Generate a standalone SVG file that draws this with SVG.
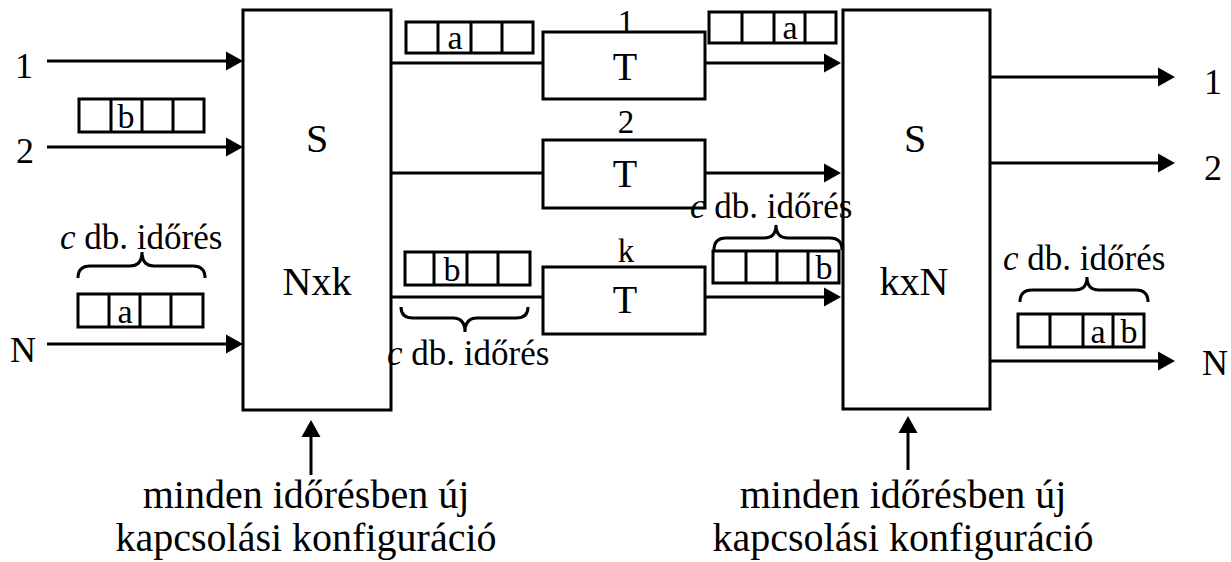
<svg xmlns="http://www.w3.org/2000/svg" width="1231" height="562" viewBox="0 0 1231 562">
<style>
text{font-family:"Liberation Serif","Times New Roman",serif;fill:#000}
.box{fill:#fff;stroke:#000;stroke-width:3}
.ln{stroke:#000;stroke-width:3;fill:none}
.cell{fill:none;stroke:#000;stroke-width:3}
.br{fill:none;stroke:#000;stroke-width:3}
.big{font-size:40px}
.lab{font-size:36px}
.num{font-size:33px}
.cl{font-size:34px}
.ct{font-size:35px}
.bot{font-size:40px}
</style>
<defs>
<marker id="ah" markerUnits="userSpaceOnUse" markerWidth="18" markerHeight="20" refX="7" refY="10" orient="auto">
<path d="M0,0.5 L17,10 L0,19.5 Z" fill="#000"/>
</marker>
</defs>

<g id="connectors">
<line class="ln" x1="47" y1="61" x2="233" y2="61" marker-end="url(#ah)"/>
<line class="ln" x1="47" y1="147" x2="233" y2="147" marker-end="url(#ah)"/>
<line class="ln" x1="47" y1="344" x2="233" y2="344" marker-end="url(#ah)"/>
<line class="ln" x1="391" y1="63" x2="543" y2="63"/>
<line class="ln" x1="391" y1="173" x2="543" y2="173"/>
<line class="ln" x1="391" y1="297" x2="543" y2="297"/>
<line class="ln" x1="705" y1="63" x2="831" y2="63" marker-end="url(#ah)"/>
<line class="ln" x1="705" y1="173" x2="831" y2="173" marker-end="url(#ah)"/>
<line class="ln" x1="705" y1="297" x2="831" y2="297" marker-end="url(#ah)"/>
<line class="ln" x1="990" y1="77" x2="1165" y2="77" marker-end="url(#ah)"/>
<line class="ln" x1="990" y1="163" x2="1165" y2="163" marker-end="url(#ah)"/>
<line class="ln" x1="990" y1="361" x2="1165" y2="361" marker-end="url(#ah)"/>
<line class="ln" x1="311" y1="475" x2="311" y2="430" marker-end="url(#ah)"/>
<line class="ln" x1="908" y1="470" x2="908" y2="426" marker-end="url(#ah)"/>
</g>

<g id="switch1">
<rect class="box" x="243" y="10" width="148" height="400"/>
<text class="big" x="317" y="152" text-anchor="middle">S</text>
<text class="big" x="317" y="295" text-anchor="middle">Nxk</text>
</g>

<g id="switch2">
<rect class="box" x="843" y="10" width="147" height="399"/>
<text class="big" x="915" y="152" text-anchor="middle">S</text>
<text class="big" x="914" y="295" text-anchor="middle">kxN</text>
</g>

<g id="t1">
<rect class="box" x="543" y="32" width="162" height="67"/>
<text class="big" x="625" y="80" text-anchor="middle">T</text>
<text class="num" x="626" y="33" text-anchor="middle">1</text>
</g>
<g id="t2">
<rect class="box" x="543" y="140" width="162" height="68"/>
<text class="big" x="625" y="187" text-anchor="middle">T</text>
<text class="num" x="626" y="133" text-anchor="middle">2</text>
</g>
<g id="tk">
<rect class="box" x="543" y="267" width="162" height="67"/>
<text class="big" x="625" y="313" text-anchor="middle">T</text>
<text class="num" x="626" y="262" text-anchor="middle">k</text>
</g>

<g id="inLabels">
<text class="lab" x="24" y="78" text-anchor="middle">1</text>
<text class="lab" x="25" y="163" text-anchor="middle">2</text>
<text class="lab" x="23" y="362" text-anchor="middle">N</text>
</g>
<g id="outLabels">
<text class="lab" x="1213" y="94" text-anchor="middle">1</text>
<text class="lab" x="1213" y="180" text-anchor="middle">2</text>
<text class="lab" x="1215" y="375" text-anchor="middle">N</text>
</g>

<g id="frame1">
<rect class="cell" x="79" y="99" width="125" height="33"/>
<path class="cell" d="M111,99V132M142,99V132M173,99V132"/>
<text class="cl" x="126" y="128" text-anchor="middle">b</text>
</g>
<g id="frame2">
<rect class="cell" x="78" y="294" width="125" height="33"/>
<path class="cell" d="M109,294V327M140,294V327M171,294V327"/>
<text class="cl" x="125" y="323" text-anchor="middle">a</text>
</g>
<g id="frame3">
<rect class="cell" x="406" y="22" width="127" height="31"/>
<path class="cell" d="M438,22V53M471,22V53M502,22V53"/>
<text class="cl" x="455" y="49" text-anchor="middle">a</text>
</g>
<g id="frame4">
<rect class="cell" x="709" y="12" width="127" height="31"/>
<path class="cell" d="M742,12V43M774,12V43M805,12V43"/>
<text class="cl" x="790" y="39" text-anchor="middle">a</text>
</g>
<g id="frame5">
<rect class="cell" x="405" y="252" width="125" height="33"/>
<path class="cell" d="M434,252V285M467,252V285M498,252V285"/>
<text class="cl" x="452" y="281" text-anchor="middle">b</text>
</g>
<g id="frame6">
<rect class="cell" x="713" y="251" width="126" height="32"/>
<path class="cell" d="M746,251V283M777,251V283M808,251V283"/>
<text class="cl" x="824" y="279" text-anchor="middle">b</text>
</g>
<g id="frame7">
<rect class="cell" x="1018" y="314" width="126" height="33"/>
<path class="cell" d="M1050,314V347M1083,314V347M1113,314V347"/>
<text class="cl" x="1098" y="343" text-anchor="middle">a</text>
<text class="cl" x="1129" y="343" text-anchor="middle">b</text>
</g>

<g id="brace1">
<path class="br" d="M78,278 Q78,266 90,266 L130,266 Q142,266 142,252 Q142,266 154,266 L193,266 Q205,266 205,278"/>
<text class="ct" x="60" y="249"><tspan font-style="italic">c</tspan> db. időrés</text>
</g>
<g id="brace2">
<path class="br" d="M401,307 Q401,318 413,318 L453,318 Q465,318 465,332 Q465,318 477,318 L516,318 Q528,318 528,307"/>
<text class="ct" x="387" y="365"><tspan font-style="italic">c</tspan> db. időrés</text>
</g>
<g id="brace3">
<path class="br" d="M714,250 Q714,238 726,238 L764,238 Q776,238 776,225 Q776,238 788,238 L830,238 Q842,238 842,250"/>
<text class="ct" x="690" y="218"><tspan font-style="italic">c</tspan> db. időrés</text>
</g>
<g id="brace4">
<path class="br" d="M1020,302 Q1020,290 1032,290 L1075,290 Q1087,290 1087,277 Q1087,290 1099,290 L1136,290 Q1148,290 1148,302"/>
<text class="ct" x="1003" y="270"><tspan font-style="italic">c</tspan> db. időrés</text>
</g>

<g id="note1">
<text class="bot" x="306" y="508" text-anchor="middle">minden időrésben új</text>
<text class="bot" x="306" y="551" text-anchor="middle">kapcsolási konfiguráció</text>
</g>
<g id="note2">
<text class="bot" x="903" y="508" text-anchor="middle">minden időrésben új</text>
<text class="bot" x="903" y="551" text-anchor="middle">kapcsolási konfiguráció</text>
</g>
</svg>
